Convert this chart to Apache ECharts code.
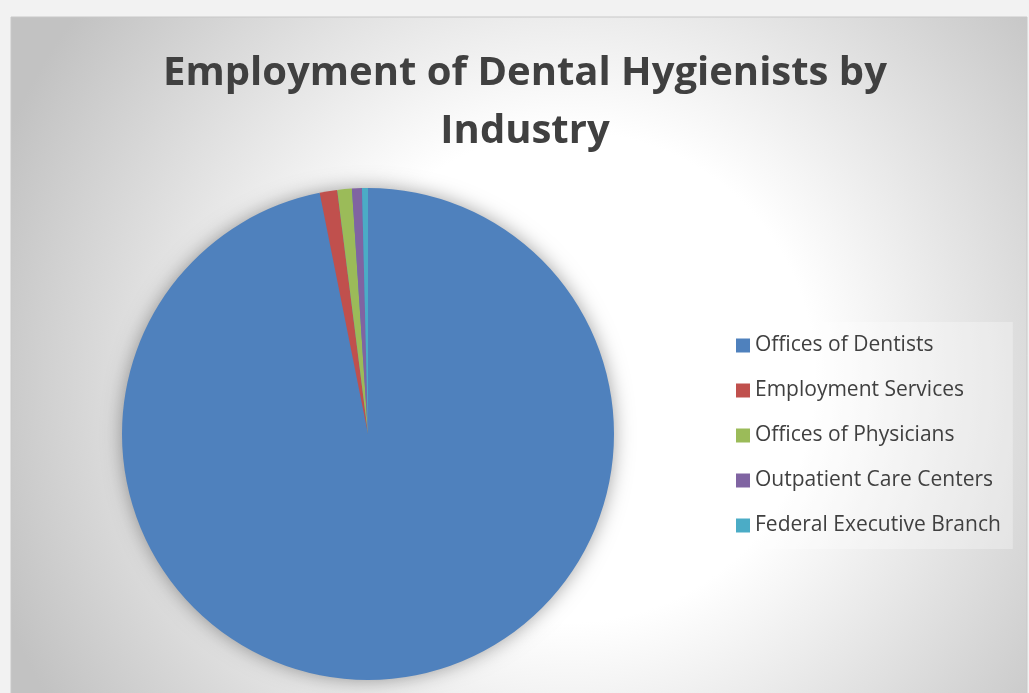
<!DOCTYPE html>
<html>
<head>
<meta charset="utf-8">
<script src="https://cdn.jsdelivr.net/npm/echarts@6/dist/echarts.min.js"></script>
<style>
  html, body { margin: 0; padding: 0; background: #f2f2f2; }
  #main { width: 1029px; height: 693px; }
</style>
</head>
<body>
<div id="main"></div>
<script>
// share of employment (percent)
var categories = [
  "Offices of Dentists",
  "Employment Services",
  "Offices of Physicians",
  "Outpatient Care Centers",
  "Federal Executive Branch"
];
var shares = [96.85, 1.15, 0.96, 0.65, 0.39];
var colors = ["#4f81bd", "#c0504d", "#9bbb59", "#8064a2", "#4bacc6"];

var pieCenter = [368, 434];
var pieRadius = 246;

var chart = echarts.init(document.getElementById("main"));

var option = {
  backgroundColor: "#f2f2f2",
  color: colors,
  animation: false,
  graphic: [
    {
      type: "rect",
      silent: true,
      z: -10,
      shape: { x: 11, y: 17, width: 1016, height: 720 },
      style: {
        fill: new echarts.graphic.RadialGradient(0.55, 0.5, 0.85, [
          { offset: 0, color: "#ffffff" },
          { offset: 0.4, color: "#ffffff" },
          { offset: 1, color: "#c2c2c2" }
        ]),
        stroke: "#c8c8c8",
        lineWidth: 1
      }
    },
    {
      // soft glow under the pie
      type: "circle",
      silent: true,
      z: -5,
      shape: { cx: pieCenter[0], cy: pieCenter[1], r: pieRadius - 1 },
      style: {
        fill: "#4f81bd",
        shadowBlur: 20,
        shadowColor: "rgba(0,0,0,0.4)"
      }
    }
  ],
  title: {
    text: "Employment of Dental Hygienists by\nIndustry",
    left: 520,
    top: 40,
    textAlign: "center",
    textStyle: {
      fontFamily: "Open Sans",
      fontSize: 40,
      fontWeight: "bold",
      color: "#404040",
      lineHeight: 58
    }
  },
  legend: {
    orient: "vertical",
    left: 725,
    top: 322,
    padding: [13, 12, 13, 11],
    backgroundColor: "rgba(255,255,255,0.3)",
    itemWidth: 14,
    itemHeight: 14,
    itemGap: 24,
    icon: "rect",
    selectedMode: false,
    textStyle: {
      fontFamily: "Open Sans",
      fontSize: 21,
      lineHeight: 21,
      color: "#404040"
    },
    data: categories
  },
  series: [
    {
      name: "Employment",
      type: "pie",
      center: pieCenter,
      radius: pieRadius,
      startAngle: 90,
      clockwise: true,
      silent: true,
      label: { show: false },
      labelLine: { show: false },
      itemStyle: { borderWidth: 0 },
      data: categories.map(function (name, i) {
        return { name: name, value: shares[i] };
      })
    }
  ]
};

chart.setOption(option);
</script>
</body>
</html>
